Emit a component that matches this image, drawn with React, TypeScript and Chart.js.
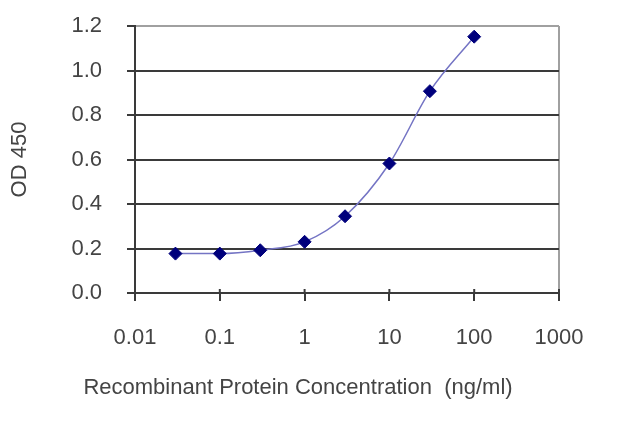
import React, { useEffect, useRef } from 'react';
import { Chart, registerables } from 'chart.js';

Chart.register(...registerables);

// concentration (ng/ml) and measured OD 450
const concentrations = [0.03, 0.1, 0.3, 1, 3, 10, 30, 100];
const od450 = [0.177, 0.177, 0.192, 0.23, 0.345, 0.582, 0.907, 1.152];

const xTickValues = [0.01, 0.1, 1, 10, 100, 1000];
const xTickLabels = ['0.01', '0.1', '1', '10', '100', '1000'];

const xTitle = 'Recombinant Protein Concentration  (ng/ml)';
const yTitle = 'OD 450';

const FONT = "'Liberation Sans', Arial, sans-serif";
const FONT_SIZE = 22;
const TEXT = '#444444';
const AXIS = '#3a3a3a';
const LIGHT = '#a0a0a0';

// small tick marks inside the plot on the x axis + the x axis title
const axisExtras = {
  id: 'axisExtras',
  afterDraw(chart: any) {
    const { ctx, chartArea, scales } = chart;
    const x = scales.x;
    ctx.save();
    ctx.strokeStyle = AXIS;
    ctx.lineWidth = 2;
    xTickValues.forEach((v) => {
      const px = x.getPixelForValue(v);
      ctx.beginPath();
      ctx.moveTo(px, chartArea.bottom);
      ctx.lineTo(px, chartArea.bottom - 4);
      ctx.stroke();
    });
    ctx.font = `${FONT_SIZE}px ${FONT}`;
    ctx.fillStyle = TEXT;
    ctx.textAlign = 'center';
    ctx.textBaseline = 'middle';
    ctx.fillText(xTitle, (chartArea.left + chartArea.right) / 2 - 49, chartArea.bottom + 95);
    ctx.restore();
  },
};

const App: React.FC = () => {
  const chartRef = useRef<HTMLCanvasElement>(null);
  const chartInstance = useRef<Chart | null>(null);

  useEffect(() => {
    document.body.style.margin = '0';
    if (!chartRef.current) return;
    const ctx = chartRef.current.getContext('2d');
    if (!ctx) return;

    if (chartInstance.current) {
      chartInstance.current.destroy();
    }

    chartInstance.current = new Chart(ctx, {
      type: 'line',
      data: {
        datasets: [
          {
            label: yTitle,
            data: concentrations.map((c, i) => ({ x: c, y: od450[i] })),
            borderColor: '#7474c4',
            borderWidth: 1.5,
            cubicInterpolationMode: 'monotone',
            pointStyle: 'rectRot',
            pointRadius: 6.5,
            pointBackgroundColor: '#00007c',
            pointBorderColor: '#00007c',
            pointBorderWidth: 1,
          },
        ],
      },
      options: {
        responsive: true,
        maintainAspectRatio: false,
        animation: false,
        layout: {
          padding: { top: 26, right: 81, left: 0, bottom: 0 },
        },
        plugins: {
          legend: { display: false },
          tooltip: { enabled: false },
        },
        scales: {
          x: {
            type: 'logarithmic',
            min: 0.01,
            max: 1000,
            afterBuildTicks: (scale: any) => {
              scale.ticks = xTickValues.map((value) => ({ value }));
            },
            afterFit: (scale: any) => {
              scale.height = 134;
              scale.paddingLeft = 0;
              scale.paddingRight = 0;
            },
            grid: {
              color: (c: any) => (c.tick && c.tick.value === 1000 ? LIGHT : 'transparent'),
              lineWidth: 2,
              tickColor: AXIS,
              tickLength: 8,
              tickWidth: 2,
            },
            border: { color: AXIS, width: 2 },
            ticks: {
              autoSkip: false,
              maxRotation: 0,
              padding: 24,
              color: TEXT,
              font: { family: FONT, size: FONT_SIZE },
              callback: (_v: any, index: number) => xTickLabels[index],
            },
          },
          y: {
            min: 0,
            max: 1.2,
            afterFit: (scale: any) => {
              scale.width = 135;
              scale.paddingTop = 0;
              scale.paddingBottom = 0;
            },
            grid: {
              color: (c: any) => (c.tick && c.tick.value >= 1.2 ? LIGHT : AXIS),
              lineWidth: 2,
              tickColor: AXIS,
              tickLength: 8,
              tickWidth: 2,
            },
            border: { color: AXIS, width: 2 },
            ticks: {
              stepSize: 0.2,
              padding: 25,
              color: TEXT,
              font: { family: FONT, size: FONT_SIZE },
              callback: (v: any) => Number(v).toFixed(1),
            },
            title: {
              display: true,
              text: yTitle,
              color: TEXT,
              font: { family: FONT, size: FONT_SIZE },
              padding: { top: 7, bottom: 0 },
            },
          },
        },
      },
      plugins: [axisExtras],
    });

    return () => {
      if (chartInstance.current) {
        chartInstance.current.destroy();
        chartInstance.current = null;
      }
    };
  }, []);

  return (
    <div style={{ width: '640px', height: '427px', background: '#fff' }}>
      <canvas ref={chartRef} />
    </div>
  );
};

export default App;
